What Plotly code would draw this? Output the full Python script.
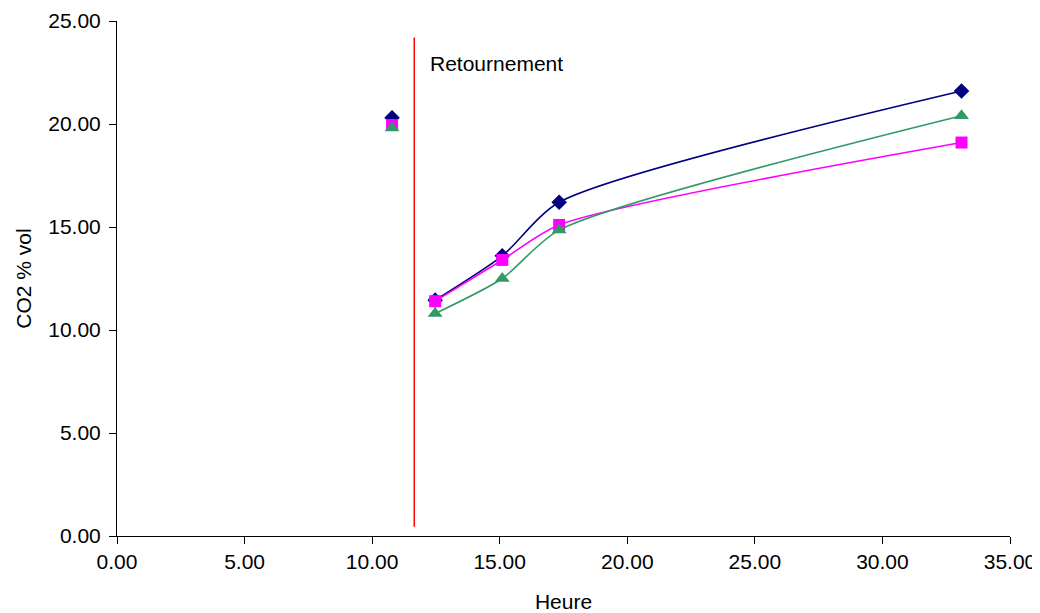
import plotly.graph_objects as go

heure = [10.78, None, 12.47, 15.10, 17.33, 33.10]
serie_bleue = [20.30, None, 11.45, 13.60, 16.20, 21.60]
serie_magenta = [19.95, None, 11.40, 13.40, 15.10, 19.10]
serie_verte = [19.80, None, 10.80, 12.50, 14.85, 20.40]
retournement_x = 11.65
retournement_y = [0.45, 24.2]

font = "Liberation Sans, Arial, sans-serif"
fig = go.Figure()
series = [
    (serie_bleue, "#000080", "diamond", 12),
    (serie_magenta, "#FF00FF", "square", 12),
    (serie_verte, "#339966", "triangle-up", 13),
]
for ys, col, sym, sz in series:
    fig.add_trace(go.Scatter(
        x=heure, y=ys, mode="lines+markers",
        line=dict(color=col, width=1.6, shape="spline", smoothing=0.7),
        marker=dict(symbol=sym, size=sz, color=col),
        connectgaps=False, showlegend=False,
    ))

fig.add_trace(go.Scatter(
    x=[retournement_x, retournement_x], y=retournement_y, mode="lines",
    line=dict(color="#FF0000", width=1.5), showlegend=False,
))
fig.add_annotation(x=12.2, y=22.95, text="Retournement", showarrow=False,
                   xanchor="left", font=dict(size=21, color="#000000", family=font))

fig.update_layout(
    width=1040, height=613,
    margin=dict(l=109, r=38, t=13, b=85, autoexpand=False),
    plot_bgcolor="white", paper_bgcolor="white",
    font=dict(family=font, size=21, color="#000000"),
    xaxis=dict(range=[0, 35], dtick=5, tickformat=".2f", showgrid=False, zeroline=False,
               showline=True, linecolor="#000000", linewidth=1, automargin=False,
               ticks="outside", ticklen=7, tickcolor="#000000",
               title=dict(text="Heure", standoff=22, font=dict(size=21))),
    yaxis=dict(range=[0, 25], dtick=5, tickformat=".2f", showgrid=False, zeroline=False,
               showline=True, linecolor="#000000", linewidth=1, automargin=False,
               ticks="outside", ticklen=7, tickcolor="#000000", ticklabelstandoff=4,
               title=dict(text="CO2 % vol", standoff=10, font=dict(size=21))),
)
fig.write_html("out.html")
